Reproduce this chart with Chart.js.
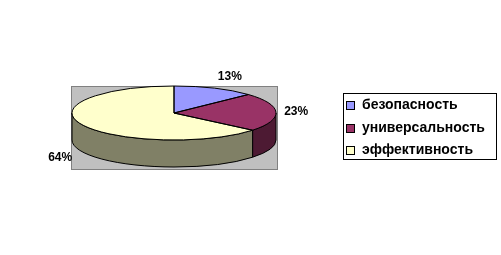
<!DOCTYPE html>
<html><head><meta charset="utf-8">
<script src="https://cdn.jsdelivr.net/npm/chart.js@4"></script>
<style>html,body{margin:0;padding:0;background:#fff}canvas{display:block}</style>
</head><body>
<canvas id="c" width="501" height="255"></canvas>
<script>
const categories = ['безопасность', 'универсальность', 'эффективность'];
const values = [13, 23, 64];
const pctLabels = ['13%', '23%', '64%'];
const colors = ['#9999FF', '#993366', '#FFFFCC'];
const sideColors = ['#4D4D80', '#4D1A33', '#808066'];

const G = {cx: 174, cy: 113, rx: 102, ry: 27, depth: 27};

function ept(a, dy) { return [G.cx + G.rx * Math.cos(a), G.cy + (dy || 0) + G.ry * Math.sin(a)]; }

const pie3d = {
  id: 'pie3d',
  beforeDatasetsDraw(chart) {
    const ctx = chart.ctx;
    const meta = chart.getDatasetMeta(0);
    ctx.save();
    ctx.fillStyle = '#C0C0C0';
    ctx.fillRect(71, 86, 207, 84);
    ctx.strokeStyle = '#808080';
    ctx.lineWidth = 1;
    ctx.strokeRect(71.5, 86.5, 206, 83);
    ctx.restore();
    // side walls
    ctx.save();
    ctx.lineWidth = 1;
    ctx.strokeStyle = '#000';
    meta.data.forEach((arc, i) => {
      const a1 = arc.startAngle, a2 = arc.endAngle;
      for (const off of [0, 2 * Math.PI, -2 * Math.PI]) {
        const s = Math.max(a1, off), e = Math.min(a2, off + Math.PI);
        if (e > s) {
          const S = s - off, E = e - off;
          ctx.beginPath();
          const p = ept(S);
          ctx.moveTo(p[0], p[1]);
          ctx.ellipse(G.cx, G.cy, G.rx, G.ry, 0, S, E, false);
          const q = ept(E, G.depth);
          ctx.lineTo(q[0], q[1]);
          ctx.ellipse(G.cx, G.cy + G.depth, G.rx, G.ry, 0, E, S, true);
          ctx.closePath();
          ctx.fillStyle = sideColors[i];
          ctx.fill();
          ctx.stroke();
        }
      }
    });
    ctx.restore();
    // squash the top face
    const a0 = meta.data[0];
    const R = a0.outerRadius;
    ctx.save();
    ctx.translate(G.cx, G.cy);
    ctx.scale(G.rx / R, G.ry / R);
    ctx.translate(-a0.x, -a0.y);
  },
  afterDatasetsDraw(chart) {
    const ctx = chart.ctx;
    ctx.restore();
    const meta = chart.getDatasetMeta(0);
    ctx.save();
    ctx.lineWidth = 1;
    ctx.strokeStyle = '#000';
    meta.data.forEach((arc) => {
      ctx.beginPath();
      ctx.moveTo(G.cx, G.cy);
      const p = ept(arc.startAngle);
      ctx.lineTo(p[0], p[1]);
      ctx.ellipse(G.cx, G.cy, G.rx, G.ry, 0, arc.startAngle, arc.endAngle, false);
      ctx.closePath();
      ctx.stroke();
    });
    // percentage labels
    ctx.fillStyle = '#000';
    ctx.font = 'bold 12px "Liberation Sans", Arial, sans-serif';
    ctx.textAlign = 'center';
    ctx.textBaseline = 'middle';
    meta.data.forEach((arc, i) => {
      const m = (arc.startAngle + arc.endAngle) / 2;
      const c = Math.cos(m), s = Math.sin(m);
      const x = G.cx + c * (G.rx + 20) + 8 * Math.sign(c) * Math.abs(s);
      const y = G.cy + s * (G.ry + 13) + (s > 0 ? G.depth + 1 : 0);
      ctx.fillText(pctLabels[i], x, y);
    });
    // legend
    ctx.strokeStyle = '#000';
    ctx.strokeRect(343.5, 93.5, 153, 66);
    ctx.font = 'bold 12px "Liberation Sans", Arial, sans-serif';
    let maxW = 0;
    categories.forEach(n => { maxW = Math.max(maxW, ctx.measureText(n).width); });
    const fs = Math.min(14, 12 * 124 / maxW);
    ctx.font = 'bold ' + fs.toFixed(2) + 'px "Liberation Sans", Arial, sans-serif';
    ctx.textAlign = 'left';
    categories.forEach((name, i) => {
      const y = 105 + i * 22.5;
      ctx.fillStyle = colors[i];
      ctx.fillRect(347, Math.round(y) - 3, 7, 7);
      ctx.strokeStyle = '#000';
      ctx.strokeRect(346.5, Math.round(y) - 3.5, 8, 8);
      ctx.fillStyle = '#000';
      ctx.fillText(name, 362, y + 0.5);
    });
    ctx.restore();
  }
};

new Chart(document.getElementById('c'), {
  type: 'pie',
  data: {
    labels: categories,
    datasets: [{
      data: values,
      backgroundColor: colors,
      borderWidth: 0
    }]
  },
  options: {
    responsive: false,
    animation: false,
    events: [],
    plugins: {legend: {display: false}, tooltip: {enabled: false}}
  },
  plugins: [pie3d]
});
</script>
</body></html>
